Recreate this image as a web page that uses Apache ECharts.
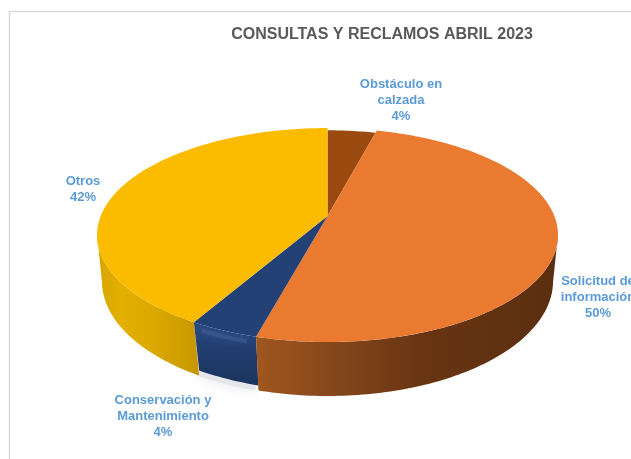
<!DOCTYPE html>
<html><head><meta charset="utf-8">
<style>html,body{margin:0;padding:0;background:#fff;overflow:hidden}#c{width:631px;height:459px}</style>
<script src="https://cdn.jsdelivr.net/npm/echarts@6/dist/echarts.min.js"></script>
</head><body><div id="c"></div>
<script>
const titleText = 'CONSULTAS Y RECLAMOS ABRIL 2023';
const categories = ['Obstáculo en\ncalzada', 'Solicitud de\ninformación', 'Conservación y\nMantenimiento', 'Otros'];
const values = [4.1, 50.1, 4.1, 41.7];

// --- appearance and projection (not data) ---
const topColors = ['#9A4A0E', '#E97A30', '#234175', '#FBBC00'];
const labelCenters = [[401, 100], [598, 297.5], [163, 416.5], [83, 189]];
const topPlane = {cx: 327.5, cy: 216, R: 226.8, H: 103.6, k: 0.178};
const basePlane = {cx: 327.5, cy: 258, R: 221, H: 110.4, k: 0.2};
const topScale = [0.97, 1, 1, 1];
const baseDrop = [0, 0, -5, 0];
// silhouette: where each wall starts/ends on the top rim and on the base rim (degrees)
const wallTop = [null, [100, null], [null, null], [null, 260]];
const wallBase = [null, [102, 194.6], [194.6, 208.6], [208.6, 258]];
const wallDrawOrder = [3, 2, 1, 0];
const wallFill = [
  null,
  {x: 258, x2: 552, y: 0, y2: 0, stops: [[0, '#A0561F'], [0.3, '#80441A'], [0.55, '#693512'], [1, '#5A2F10']]},
  {x: 0, x2: 0, y: 325, y2: 384, stops: [[0, '#2A4A80'], [0.5, '#203B6B'], [1, '#1C3560']]},
  {x: 100, x2: 198, y: 0, y2: 0, stops: [[0, '#D8A600'], [0.22, '#E3B000'], [0.6, '#D9A700'], [1, '#C69600']]}
];

const total = values.reduce((a, b) => a + b, 0);
const starts = [];
values.reduce((acc, v, i) => { starts[i] = acc; return acc + v; }, 0);

function project(plane, deg, scale, drop) {
  const t = deg * Math.PI / 180, s = scale === undefined ? 1 : scale;
  const u = Math.sin(t) * s, v = -Math.cos(t) * s, w = 1 / (1 - plane.k * v);
  return [plane.cx + plane.R * u * w, plane.cy + plane.H * v * w + (drop || 0)];
}
function arc(plane, a, b, scale, drop) {
  const pts = [], n = Math.max(2, Math.ceil(Math.abs(b - a)));
  for (let i = 0; i <= n; i++) pts.push(project(plane, a + (b - a) * i / n, scale, drop));
  return pts;
}
function angles(i) {
  const a = starts[i] / total * 360;
  return [a, a + values[i] / total * 360];
}

function renderShadow(params, api) {
  const i = params.dataIndex;
  if (i !== 2) return {type: 'group', children: []};
  const [a, b] = angles(i);
  return {type: 'polyline', shape: {points: arc(basePlane, a, b - 1, 1, baseDrop[i] + 3)},
    style: {fill: null, stroke: 'rgba(225,225,232,0.8)', lineWidth: 5, shadowBlur: 12, shadowColor: '#D8D8E0'}};
}
function renderWall(params, api) {
  const i = wallDrawOrder[params.dataIndex];
  if (!wallTop[i]) return {type: 'group', children: []};
  const [a0, b0] = angles(i);
  const pick = (r, k, d) => r[k] === null ? d : r[k];
  const top = arc(topPlane, pick(wallTop[i], 0, a0), pick(wallTop[i], 1, b0));
  const base = arc(basePlane, pick(wallBase[i], 0, a0), pick(wallBase[i], 1, b0), 1, baseDrop[i]);
  const f = wallFill[i];
  const children = [{type: 'polygon', shape: {points: top.concat(base.reverse())},
    style: {fill: {type: 'linear', global: true, x: f.x, y: f.y, x2: f.x2, y2: f.y2,
      colorStops: f.stops.map(s => ({offset: s[0], color: s[1]}))}}}];
  if (i === 2) {
    children.push({type: 'polyline', shape: {points: arc(topPlane, a0 + 2, b0 - 2).map(p => [p[0], p[1] + 6])},
      style: {fill: null, stroke: 'rgba(95,125,180,0.25)', lineWidth: 4, shadowBlur: 8, shadowColor: 'rgba(95,125,180,0.9)'}});
  }
  return {type: 'group', children};
}
function renderTop(params, api) {
  const i = params.dataIndex, [a, b] = angles(i);
  const pts = [[topPlane.cx, topPlane.cy]].concat(arc(topPlane, a, b, topScale[i]));
  return {type: 'polygon', shape: {points: pts}, style: {fill: topColors[i]}};
}
function renderLabel(params, api) {
  const i = params.dataIndex, c = labelCenters[i];
  return {type: 'text', style: {
    text: categories[i] + '\n' + Math.round(api.value(0)) + '%',
    x: c[0], y: c[1], align: 'center', verticalAlign: 'middle',
    fontFamily: '"Liberation Sans", Arial, sans-serif', fontWeight: 'bold', fontSize: 13,
    lineHeight: 16, fill: '#5B9BD5'}};
}

const chart = echarts.init(document.getElementById('c'), null, {renderer: 'canvas'});
const seriesData = values.map(v => [v]);
chart.setOption({
  animation: false,
  backgroundColor: '#fff',
  title: {text: titleText, left: 377, top: 22, textAlign: 'center',
    textStyle: {fontFamily: '"Liberation Sans", Arial, sans-serif', fontWeight: 'bold', fontSize: 16, color: '#595959'}},
  graphic: [
    {type: 'polyline', silent: true, shape: {points: [[9.5, 459], [9.5, 11.5], [631, 11.5]]},
     style: {fill: null, stroke: '#D9D9D9', lineWidth: 1.5}}
  ],
  series: [
    {type: 'custom', coordinateSystem: 'none', z: 1, renderItem: renderShadow, data: seriesData},
    {type: 'custom', coordinateSystem: 'none', z: 2, renderItem: renderWall, data: seriesData},
    {type: 'custom', coordinateSystem: 'none', z: 3, renderItem: renderTop, data: seriesData},
    {type: 'custom', coordinateSystem: 'none', z: 4, renderItem: renderLabel, data: seriesData}
  ]
});
</script></body></html>
